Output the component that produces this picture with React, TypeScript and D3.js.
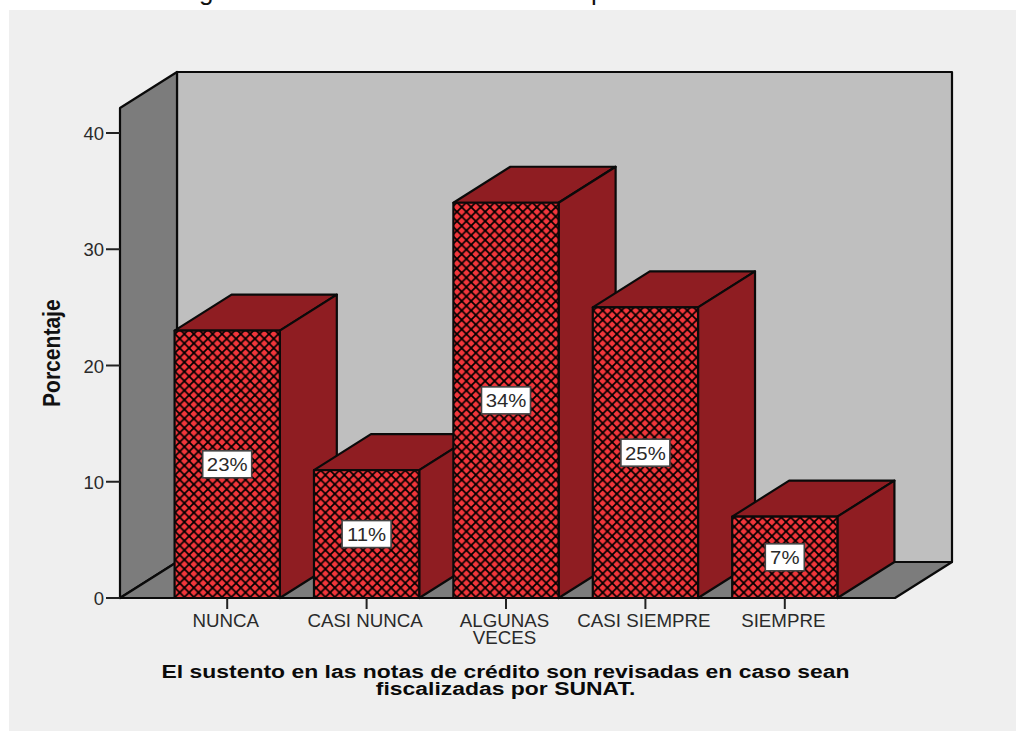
import React from "react";
import * as d3 from "d3";

const categories = ["NUNCA", "CASI NUNCA", "ALGUNAS VECES", "CASI SIEMPRE", "SIEMPRE"];
const tickLines = [["NUNCA"], ["CASI NUNCA"], ["ALGUNAS", "VECES"], ["CASI SIEMPRE"], ["SIEMPRE"]];
const percentages = [23, 11, 34, 25, 7];
const yTicks = [0, 10, 20, 30, 40];
const titleLines = [
  "El sustento en las notas de crédito son revisadas en caso sean",
  "fiscalizadas por SUNAT.",
];

const depthX = 57;
const depthY = -36;
const wallLeft = 120;
const wallRight = 895;
const y = d3.scaleLinear().domain([0, 40]).range([598, 133]);
const yMax = 42.15;
const x = d3
  .scaleBand<string>()
  .domain(categories)
  .range([157.5, 854.5])
  .paddingInner(0.245)
  .paddingOuter(0.1225);

const poly = d3.line<[number, number]>().x((d) => d[0]).y((d) => d[1]);
const closed = (pts: [number, number][]) => poly(pts) + "Z";

const FONT = "'Liberation Sans', Arial, sans-serif";
const INK = "#0a0a0a";
const SIDE = "#8f1d22";
const TEXT = "#2a2a2a";

export default function App() {
  const y0 = y(0);
  const yTop = y(yMax);
  return (
    <svg
      width={1016}
      height={731}
      viewBox="0 0 1016 731"
      style={{ position: "absolute", left: 0, top: 0, display: "block", background: "#fff" }}
      fontFamily={FONT}
    >
      <defs>
        <pattern id="crosshatch" width={9.4} height={9.4} patternUnits="userSpaceOnUse" x={175} y={334}>
          <rect width={9.4} height={9.4} fill="#de262c" />
          <circle cx={4.7} cy={0} r={2.8} fill="#f2363b" />
          <circle cx={4.7} cy={9.4} r={2.8} fill="#f2363b" />
          <circle cx={0} cy={4.7} r={2.8} fill="#f2363b" />
          <circle cx={9.4} cy={4.7} r={2.8} fill="#f2363b" />
          <path d="M0 0L9.4 9.4M9.4 0L0 9.4" stroke="#000" strokeWidth={1.7} />
        </pattern>
      </defs>

      {/* heading cut off by the top edge */}
      <text x={199} y={0} fontSize={26} fill="#111">g</text>
      <text x={591} y={0} fontSize={26} fill="#111">p</text>

      <rect x={9} y={10} width={1007} height={721} fill="#efefef" />

      {/* chart box: back wall, left wall, floor */}
      <g stroke={INK} strokeWidth={2.2} strokeLinejoin="round">
        <path
          d={closed([
            [wallLeft + depthX, yTop + depthY],
            [wallRight + depthX, yTop + depthY],
            [wallRight + depthX, y0 + depthY],
            [wallLeft + depthX, y0 + depthY],
          ])}
          fill="#bfbfbf"
        />
        <path
          d={closed([
            [wallLeft, yTop],
            [wallLeft + depthX, yTop + depthY],
            [wallLeft + depthX, y0 + depthY],
            [wallLeft, y0],
          ])}
          fill="#7c7c7c"
        />
        <path
          d={closed([
            [wallLeft, y0],
            [wallLeft + depthX, y0 + depthY],
            [wallRight + depthX, y0 + depthY],
            [wallRight, y0],
          ])}
          fill="#7c7c7c"
        />
      </g>

      {/* y axis */}
      <g>
        {yTicks.map((t) => (
          <g key={t}>
            <line x1={106} x2={wallLeft} y1={y(t)} y2={y(t)} stroke="#222" strokeWidth={2} />
            <text x={104} y={y(t) + 7} textAnchor="end" fontSize={18.5} fill={TEXT}>{t}</text>
          </g>
        ))}
      </g>

      {/* 3D bars, drawn left to right so each front hides its neighbour's side */}
      {categories.map((c, i) => {
        const x0 = x(c)!;
        const x1 = x0 + x.bandwidth();
        const top = y(percentages[i]);
        return (
          <g key={c} stroke={INK} strokeWidth={2.2} strokeLinejoin="round">
            <path
              d={closed([
                [x0, top],
                [x0 + depthX, top + depthY],
                [x1 + depthX, top + depthY],
                [x1, top],
              ])}
              fill={SIDE}
            />
            <path
              d={closed([
                [x1, top],
                [x1 + depthX, top + depthY],
                [x1 + depthX, y0 + depthY],
                [x1, y0],
              ])}
              fill={SIDE}
            />
            <path
              d={closed([
                [x0, top],
                [x1, top],
                [x1, y0],
                [x0, y0],
              ])}
              fill="url(#crosshatch)"
            />
          </g>
        );
      })}

      {/* x axis ticks and category labels */}
      {categories.map((c, i) => {
        const cx = x(c)! + x.bandwidth() / 2;
        return (
          <g key={c}>
            <line x1={cx} x2={cx} y1={y0} y2={609} stroke="#222" strokeWidth={2} />
            {tickLines[i].map((l, k) => (
              <text
                key={l}
                transform={`translate(${cx - 1.5},${627 + k * 17}) scale(1.04,1)`}
                textAnchor="middle"
                fontSize={18}
                fill={TEXT}
              >
                {l}
              </text>
            ))}
          </g>
        );
      })}

      {/* value labels at mid height of each bar */}
      {categories.map((c, i) => {
        const cx = x(c)! + x.bandwidth() / 2;
        const cy = (y0 + y(percentages[i])) / 2;
        const label = `${percentages[i]}%`;
        const w = 19 + 10 * label.length;
        return (
          <g key={c}>
            <rect x={cx - w / 2} y={cy - 13.5} width={w} height={27} fill="#fff" stroke="#444" strokeWidth={1.6} />
            <text
              transform={`translate(${cx},${cy + 7}) scale(1.1,1)`}
              textAnchor="middle"
              fontSize={18.5}
              fill={TEXT}
            >
              {label}
            </text>
          </g>
        );
      })}

      <text
        transform="translate(60,407) rotate(-90) scale(0.98,1.12)"
        fontSize={21.5}
        fontWeight="bold"
        fill="#111"
      >
        Porcentaje
      </text>

      {titleLines.map((l, k) => (
        <text
          key={l}
          transform={`translate(505.5,${678 + k * 17}) scale(1.24,1)`}
          textAnchor="middle"
          fontSize={18.5}
          fontWeight="bold"
          fill="#0a0a0a"
        >
          {l}
        </text>
      ))}
    </svg>
  );
}
